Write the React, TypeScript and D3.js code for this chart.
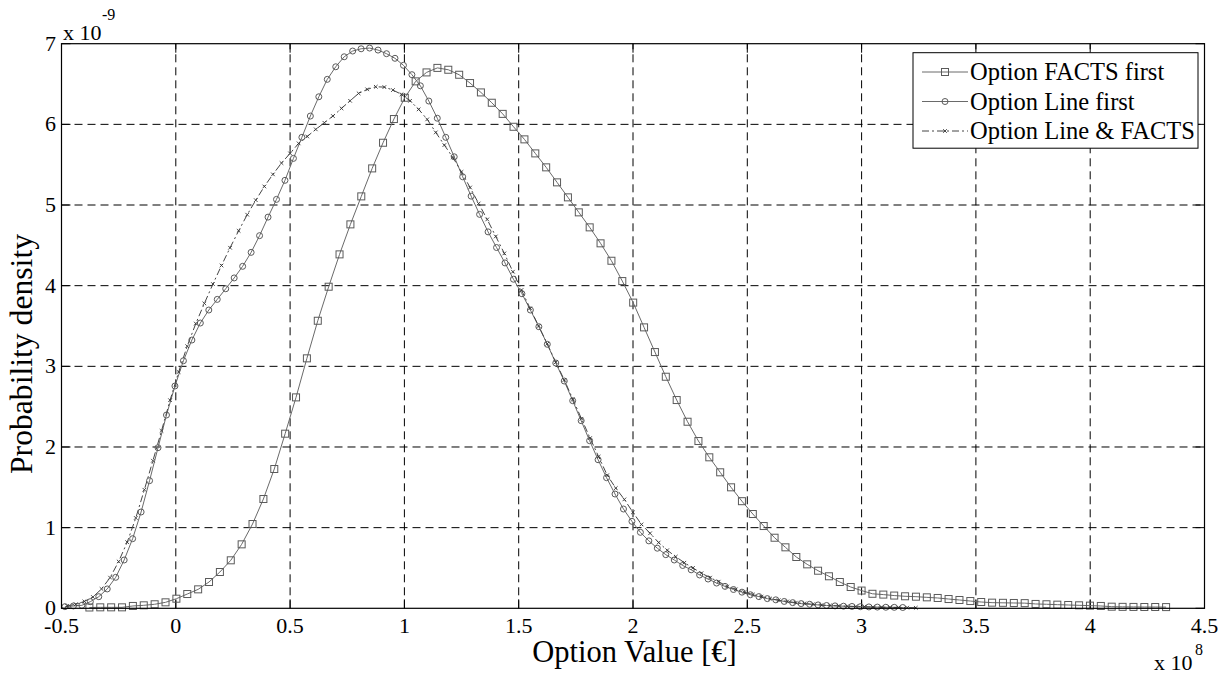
import React from 'react';
import * as d3 from 'd3';

// ---------- data ----------
const xTicks = [-0.5, 0, 0.5, 1, 1.5, 2, 2.5, 3, 3.5, 4, 4.5];
const xTickLabels = ['-0.5', '0', '0.5', '1', '1.5', '2', '2.5', '3', '3.5', '4', '4.5'];
const yTicks = [0, 1, 2, 3, 4, 5, 6, 7];
const yTickLabels = ['0', '1', '2', '3', '4', '5', '6', '7'];
const seriesNames = ['Option FACTS first', 'Option Line first', 'Option Line & FACTS'];

// kernel density evaluation grids: first and last evaluation point (x 1e8)
const factsFirstRange = [-0.378, 4.332];
const lineFirstRange = [-0.485, 3.18];
const lineFactsRange = [-0.475, 3.237];

// densities (x 1e-9), 100 evaluation points each
const factsFirst = [
  0.01, 0.012, 0.012, 0.012, 0.029, 0.037, 0.05, 0.074, 0.119, 0.177,
  0.235, 0.326, 0.45, 0.595, 0.793, 1.045, 1.355, 1.727, 2.165, 2.615,
  3.099, 3.565, 3.987, 4.388, 4.76, 5.107, 5.454, 5.772, 6.066, 6.33,
  6.533, 6.644, 6.7, 6.677, 6.615, 6.512, 6.396, 6.268, 6.13, 5.97,
  5.814, 5.64, 5.467, 5.281, 5.095, 4.909, 4.723, 4.525, 4.309, 4.057,
  3.79, 3.483, 3.177, 2.871, 2.582, 2.313, 2.074, 1.872, 1.686, 1.5,
  1.328, 1.169, 1.02, 0.875, 0.756, 0.636, 0.545, 0.466, 0.397, 0.326,
  0.264, 0.22, 0.18, 0.17, 0.158, 0.149, 0.144, 0.136, 0.128, 0.115,
  0.103, 0.09, 0.078, 0.07, 0.068, 0.066, 0.064, 0.054, 0.05, 0.045,
  0.041, 0.037, 0.033, 0.029, 0.02, 0.018, 0.017, 0.016, 0.016, 0.015,
];

const lineFirst = [
  0.02, 0.029, 0.037, 0.082, 0.144, 0.24, 0.384, 0.599, 0.863, 1.194,
  1.582, 1.991, 2.396, 2.756, 3.069, 3.326, 3.537, 3.698, 3.83, 3.962,
  4.096, 4.24, 4.413, 4.62, 4.85, 5.07, 5.306, 5.578, 5.839, 6.103,
  6.342, 6.558, 6.714, 6.838, 6.909, 6.937, 6.946, 6.921, 6.876, 6.819,
  6.732, 6.616, 6.478, 6.289, 6.076, 5.839, 5.598, 5.35, 5.11, 4.884,
  4.667, 4.473, 4.282, 4.08, 3.9, 3.698, 3.491, 3.273, 3.041, 2.818,
  2.574, 2.326, 2.078, 1.842, 1.619, 1.417, 1.231, 1.078, 0.942, 0.836,
  0.745, 0.665, 0.599, 0.531, 0.477, 0.413, 0.363, 0.313, 0.272, 0.233,
  0.2, 0.168, 0.145, 0.12, 0.105, 0.085, 0.07, 0.058, 0.05, 0.042,
  0.035, 0.03, 0.026, 0.023, 0.02, 0.017, 0.015, 0.013, 0.012, 0.01,
];

const lineFacts = [
  0.03, 0.05, 0.085, 0.14, 0.24, 0.38, 0.58, 0.82, 1.12, 1.47,
  1.83, 2.2, 2.58, 2.93, 3.25, 3.53, 3.78, 4.02, 4.25, 4.47,
  4.68, 4.88, 5.06, 5.23, 5.38, 5.52, 5.64, 5.764, 5.85, 5.938,
  6.02, 6.103, 6.198, 6.292, 6.384, 6.434, 6.466, 6.462, 6.425, 6.372,
  6.292, 6.186, 6.062, 5.9, 5.743, 5.589, 5.41, 5.217, 5.019, 4.821,
  4.61, 4.4, 4.173, 3.946, 3.719, 3.5, 3.28, 3.05, 2.83, 2.59,
  2.35, 2.11, 1.88, 1.65, 1.49, 1.35, 1.19, 1.04, 0.93, 0.815,
  0.72, 0.64, 0.565, 0.5, 0.435, 0.38, 0.33, 0.27, 0.235, 0.2,
  0.17, 0.145, 0.12, 0.1, 0.085, 0.07, 0.06, 0.05, 0.04, 0.035,
  0.03, 0.026, 0.022, 0.019, 0.016, 0.014, 0.012, 0.01, 0.008, 0.006,
];

// ---------- layout ----------
const W = 1226;
const H = 674;
const PL = 61.5;
const PR = 1204.5;
const PT = 43.7;
const PB = 608.3;
const FONT = '"Liberation Serif", "DejaVu Serif", serif';
const LINE_COLOR = '#6a6a6a';
const MARK_COLOR = '#5a5a5a';

const x = d3.scaleLinear().domain([-0.5, 4.5]).range([PL, PR]);
const y = d3.scaleLinear().domain([0, 7]).range([PB, PT]);

function toPoints(range: number[], values: number[]) {
  const idx = d3.scaleLinear().domain([0, values.length - 1]).range(range);
  return values.map((v, i) => [idx(i), v] as [number, number]);
}

const lineGen = d3
  .line<[number, number]>()
  .x((d) => x(d[0]))
  .y((d) => y(d[1]));

const Square = ({ cx, cy, s = 7 }: { cx: number; cy: number; s?: number }) => (
  <rect x={cx - s / 2} y={cy - s / 2} width={s} height={s} fill="none" stroke={MARK_COLOR} strokeWidth={1} />
);
const Circle = ({ cx, cy, r = 3 }: { cx: number; cy: number; r?: number }) => (
  <circle cx={cx} cy={cy} r={r} fill="none" stroke={MARK_COLOR} strokeWidth={1} />
);
const Cross = ({ cx, cy, s = 1.8 }: { cx: number; cy: number; s?: number }) => (
  <path
    d={`M${cx - s},${cy - s}L${cx + s},${cy + s}M${cx - s},${cy + s}L${cx + s},${cy - s}`}
    stroke="#333"
    strokeWidth={0.9}
  />
);

export default function App() {
  const pFacts = toPoints(factsFirstRange, factsFirst);
  const pLine = toPoints(lineFirstRange, lineFirst);
  const pBoth = toPoints(lineFactsRange, lineFacts);

  const tickLen = 9;
  const gridDash = '8,5';

  const legX = 913;
  const legY = 52.7;
  const legW = 285;
  const legH = 95.5;
  const legRows = [72, 101.5, 131];

  return (
    <svg
      width={W}
      height={H}
      viewBox={`0 0 ${W} ${H}`}
      style={{ position: 'absolute', left: 0, top: 0, background: '#fff' }}
      fontFamily={FONT}
    >
      <rect x={0} y={0} width={W} height={H} fill="#fff" />

      {/* grid */}
      <g stroke="#000" strokeWidth={1} strokeDasharray={gridDash}>
        {xTicks.slice(1, -1).map((t) => (
          <line key={'gx' + t} x1={x(t)} x2={x(t)} y1={PB} y2={PT} />
        ))}
        {yTicks.slice(1, -1).map((t) => (
          <line key={'gy' + t} x1={PL} x2={PR} y1={y(t)} y2={y(t)} />
        ))}
      </g>

      {/* ticks */}
      <g stroke="#000" strokeWidth={1}>
        {xTicks.map((t) => (
          <g key={'tx' + t}>
            <line x1={x(t)} x2={x(t)} y1={PB} y2={PB - tickLen} />
            <line x1={x(t)} x2={x(t)} y1={PT} y2={PT + tickLen} />
          </g>
        ))}
        {yTicks.map((t) => (
          <g key={'ty' + t}>
            <line x1={PL} x2={PL + tickLen} y1={y(t)} y2={y(t)} />
            <line x1={PR} x2={PR - tickLen} y1={y(t)} y2={y(t)} />
          </g>
        ))}
      </g>

      {/* series */}
      <g fill="none">
        <path d={lineGen(pFacts) || ''} stroke={LINE_COLOR} strokeWidth={1} />
        <path d={lineGen(pLine) || ''} stroke={LINE_COLOR} strokeWidth={1} />
        <path d={lineGen(pBoth) || ''} stroke="#444" strokeWidth={1} strokeDasharray="7,3,2,3" />
      </g>
      <g>
        {pFacts.map((d, i) => (
          <Square key={'s' + i} cx={x(d[0])} cy={y(d[1])} />
        ))}
        {pLine.map((d, i) => (
          <Circle key={'c' + i} cx={x(d[0])} cy={y(d[1])} />
        ))}
        {pBoth.map((d, i) => (
          <Cross key={'x' + i} cx={x(d[0])} cy={y(d[1])} />
        ))}
      </g>

      {/* axes box */}
      <rect x={PL} y={PT} width={PR - PL} height={PB - PT} fill="none" stroke="#000" strokeWidth={1.2} />

      {/* tick labels */}
      <g fontSize={22} fill="#000">
        {xTicks.map((t, i) => (
          <text key={'lx' + t} x={x(t)} y={633} textAnchor="middle">
            {xTickLabels[i]}
          </text>
        ))}
        {yTicks.map((t, i) => (
          <text key={'ly' + t} x={56} y={y(t) + 7} textAnchor="end">
            {yTickLabels[i]}
          </text>
        ))}
      </g>

      {/* exponent labels */}
      <text x={63} y={40} fontSize={22}>x 10</text>
      <text x={102} y={20} fontSize={16}>-9</text>
      <text x={1154} y={670} fontSize={22}>x 10</text>
      <text x={1195} y={655} fontSize={16}>8</text>

      {/* axis titles */}
      <text x={634.5} y={662} textAnchor="middle" fontSize={30.5}>
        Option Value [€]
      </text>
      <text
        transform={`translate(32, 354) rotate(-90)`}
        textAnchor="middle"
        fontSize={31}
        textLength={240}
        lengthAdjust="spacingAndGlyphs"
      >
        Probability density
      </text>

      {/* legend */}
      <rect x={legX} y={legY} width={legW} height={legH} fill="#fff" stroke="#000" strokeWidth={1} />
      {seriesNames.map((name, i) => {
        const ly = legRows[i];
        return (
          <g key={'leg' + i}>
            {i < 2 ? (
              <line x1={922} x2={968} y1={ly} y2={ly} stroke={LINE_COLOR} strokeWidth={1} />
            ) : (
              <line x1={922} x2={968} y1={ly} y2={ly} stroke="#444" strokeWidth={1} strokeDasharray="7,3,2,3" />
            )}
            {i === 0 && <Square cx={945} cy={ly} />}
            {i === 1 && <Circle cx={945} cy={ly} />}
            {i === 2 && <Cross cx={945} cy={ly} />}
            <text x={970} y={ly + 8} fontSize={24.5} fill="#000">
              {name}
            </text>
          </g>
        );
      })}
    </svg>
  );
}
